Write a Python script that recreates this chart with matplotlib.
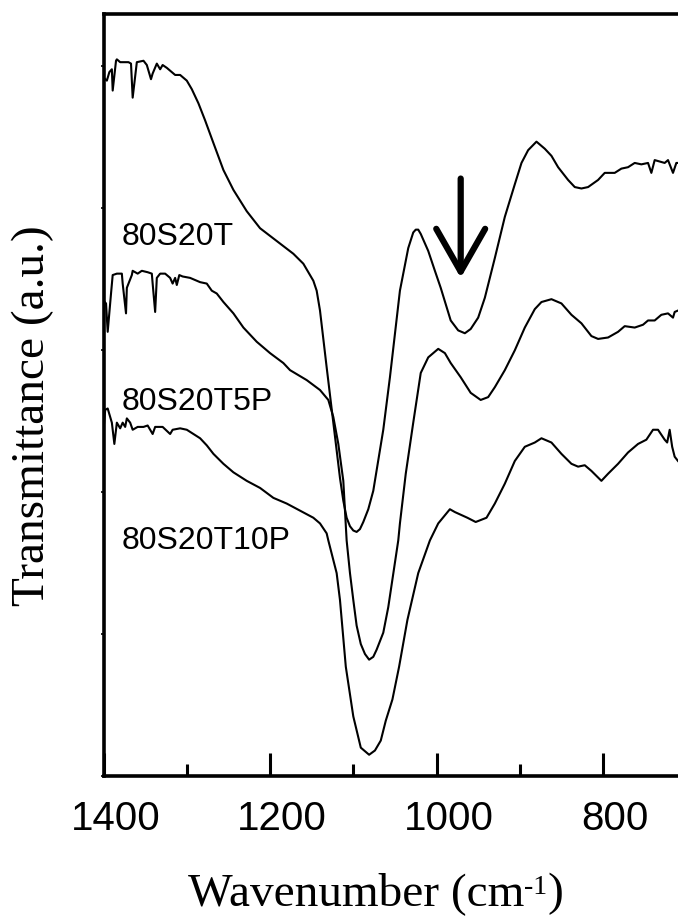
import numpy as np
import matplotlib.pyplot as plt
from matplotlib.ticker import MultipleLocator
import matplotlib.transforms as mtransforms

# FTIR spectra (transmittance in arbitrary units, curves offset)
wn_a = [1400, 1396, 1393, 1390, 1389, 1385, 1384, 1380, 1370, 1367, 1365, 1360, 1352, 1348, 1343,
        1341, 1336, 1332, 1329, 1324, 1318, 1314, 1308, 1300, 1294, 1286, 1278, 1268, 1256, 1244,
        1228, 1212, 1192, 1172, 1160, 1148, 1144, 1140, 1132, 1124, 1116, 1112, 1108, 1104, 1100,
        1096, 1092, 1088, 1082, 1076, 1064, 1056, 1044, 1034, 1028, 1025, 1022, 1019, 1010, 1002,
        995, 983, 974, 966, 959, 950, 942, 930, 918, 906, 898, 890, 880, 870, 862,
        854, 842, 834, 826, 818, 806, 798, 786, 778, 770, 762, 754, 746, 742, 738,
        726, 722, 716, 712, 710]
t_a = [492, 490, 496, 498, 483, 504, 505, 503, 503, 502, 478, 503, 504, 501, 491,
       495, 502, 498, 501, 499, 496, 494, 494, 490, 484, 474, 462, 446, 427, 413,
       398, 386, 377, 368, 361, 349, 342, 328, 288, 249, 210, 194, 182, 176, 173,
       172, 174, 179, 188, 201, 244, 281, 342, 372, 383, 385, 385, 382, 370, 356,
       344, 321, 314, 312, 315, 323, 337, 365, 394, 417, 432, 441, 447, 442, 437,
       429, 420, 415, 414, 415, 420, 425, 425, 428, 429, 432, 431, 432, 425, 434,
       432, 434, 425, 432, 432]

wn_b = [1400, 1397, 1395, 1391, 1389, 1384, 1378, 1377, 1373, 1372, 1366, 1365, 1359, 1354, 1347,
        1342, 1341, 1338, 1336, 1332, 1326, 1320, 1317, 1314, 1312, 1309, 1305, 1296, 1284, 1276,
        1270, 1264, 1256, 1244, 1232, 1216, 1200, 1184, 1176, 1156, 1140, 1130, 1124, 1118, 1112,
        1108, 1104, 1100, 1096, 1091, 1086, 1081, 1076, 1072, 1064, 1058, 1046, 1044, 1037, 1028,
        1019, 1010, 998, 990, 983, 971, 959, 947, 938, 930, 918, 906, 894, 882, 874,
        862, 850, 838, 826, 814, 806, 794, 782, 774, 762, 752, 746, 738, 730, 722,
        716, 714, 710]
t_b = [335, 333, 313, 340, 353, 354, 354, 347, 326, 344, 353, 356, 354, 356, 355,
       354, 347, 327, 351, 354, 354, 351, 347, 351, 346, 353, 352, 351, 348, 347,
       342, 340, 334, 326, 316, 306, 298, 291, 286, 279, 272, 265, 253, 234, 208,
       166, 143, 124, 106, 93, 86, 82, 84, 89, 101, 119, 166, 178, 213, 249,
       284, 295, 301, 298, 291, 281, 270, 265, 267, 274, 286, 300, 316, 329, 334,
       336, 333, 325, 319, 310, 308, 309, 313, 317, 316, 318, 321, 321, 325, 326,
       323, 327, 328]

wn_c = [1400, 1398, 1395, 1390, 1387, 1384, 1380, 1377, 1374, 1372, 1368, 1365, 1359, 1352, 1347,
        1341, 1338, 1329, 1320, 1317, 1308, 1300, 1292, 1284, 1276, 1268, 1256, 1244, 1228, 1212,
        1196, 1180, 1164, 1148, 1140, 1132, 1130, 1120, 1116, 1109, 1100, 1091, 1081, 1074, 1067,
        1061, 1053, 1045, 1035, 1022, 1008, 998, 984, 978, 963, 953, 940, 930, 918, 906,
        894, 882, 874, 862, 850, 838, 830, 822, 814, 802, 794, 782, 770, 758, 748,
        740, 734, 726, 723, 720, 717, 714, 710]
t_c = [244, 258, 259, 249, 234, 249, 245, 249, 246, 252, 249, 244, 246, 246, 247,
       241, 246, 246, 241, 244, 245, 244, 241, 238, 233, 227, 220, 214, 208, 203,
       196, 192, 187, 182, 178, 171, 166, 143, 124, 77, 42, 20, 15, 18, 25,
       39, 54, 77, 110, 143, 166, 178, 188, 186, 182, 179, 182, 192, 206, 222,
       232, 235, 238, 235, 227, 220, 218, 219, 215, 208, 213, 220, 228, 234, 237,
       244, 244, 237, 235, 244, 232, 225, 222]

names = ['80S20T', '80S20T5P', '80S20T10P']
name_y = [374, 258, 160]

plt.rcParams['font.family'] = ['Liberation Sans Narrow', 'Liberation Sans', 'DejaVu Sans']
serif = ['Liberation Serif', 'DejaVu Serif']

fig = plt.figure(figsize=(6.78, 9.16), dpi=100)
ax = fig.add_axes([0.1527, 0.1528, 0.8473, 0.832])

for wn, t in [(wn_a, t_a), (wn_b, t_b), (wn_c, t_c)]:
    ax.plot(wn, t, '-', color='black', lw=1.5)

for name, yy in zip(names, name_y):
    ax.text(1378, yy, name, fontsize=23, ha='left', va='baseline')

# arrow marking the shoulder
ax.annotate('', xy=(971, 351), xytext=(971, 421),
            arrowprops=dict(arrowstyle='->,head_length=1.4,head_width=0.8', lw=4.5,
                            color='black', mutation_scale=22, shrinkA=0, shrinkB=0))

ax.set_xlim(1400, 710)
ax.set_ylim(0, 537)
ax.xaxis.set_major_locator(MultipleLocator(200))
ax.xaxis.set_minor_locator(MultipleLocator(100))
ax.yaxis.set_major_locator(MultipleLocator(100))
ax.tick_params(axis='x', which='major', direction='in', length=16.5, width=2.2,
               labelsize=29, pad=17)
ax.tick_params(axis='x', which='minor', direction='in', length=8.6, width=2.2)
ax.tick_params(axis='y', which='major', direction='out', length=2, width=1.2, labelleft=False)
for lab in ax.get_xticklabels():
    lab.set_transform(lab.get_transform() + mtransforms.ScaledTranslation(12 / 100, 0, fig.dpi_scale_trans))

ax.spines['right'].set_visible(False)
for s in ['left', 'bottom', 'top']:
    ax.spines[s].set_linewidth(2.6)

# x label with a small raised "-1"
xl = fig.text(188 / 678, 1 - 905 / 916, 'Wavenumber (cm', ha='left', va='baseline',
              fontsize=34, family=serif)
sup = ax.annotate('-1', xy=(1, 0.93), xycoords=xl, ha='left', va='top',
                  fontsize=20, family=serif, annotation_clip=False)
ax.annotate(')', xy=(1, 0), xycoords=(sup, xl), ha='left', va='bottom',
            fontsize=34, family=serif, annotation_clip=False)
fig.text(33 / 678, 1 - 416 / 916, 'Transmittance (a.u.)', ha='center', va='center', rotation=90,
         fontsize=34, family=serif)

fig.savefig('out.png', dpi=100)
